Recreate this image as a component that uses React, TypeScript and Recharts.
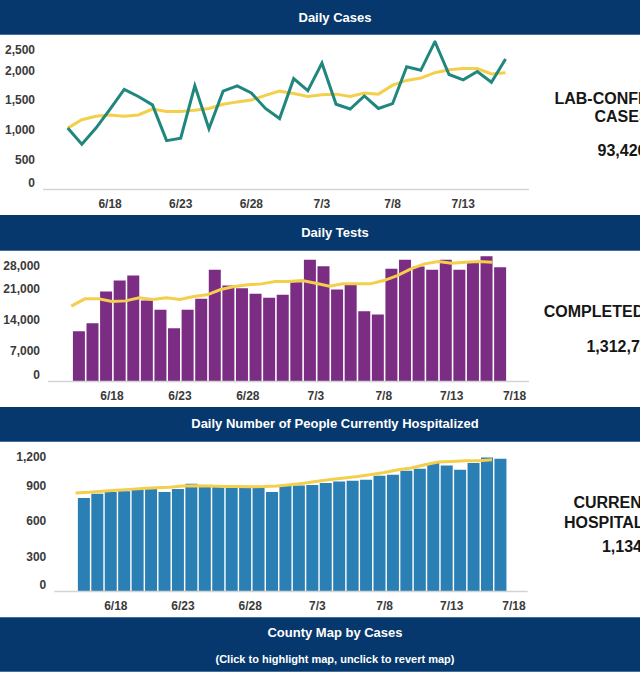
import React from 'react';
import { ComposedChart, Line, Bar, XAxis, YAxis } from 'recharts';

// ---------- data ----------
const DATES = [
  '6/15', '6/16', '6/17', '6/18', '6/19', '6/20', '6/21', '6/22', '6/23', '6/24', '6/25', '6/26', '6/27', '6/28', '6/29', '6/30',
  '7/1', '7/2', '7/3', '7/4', '7/5', '7/6', '7/7', '7/8', '7/9', '7/10', '7/11', '7/12', '7/13', '7/14', '7/15', '7/16',
];
const TICK_LABELS_CASES = ['6/18', '6/23', '6/28', '7/3', '7/8', '7/13'];
const TICK_LABELS_BARS = ['6/18', '6/23', '6/28', '7/3', '7/8', '7/13', '7/18'];

const DAILY_CASES = [1030, 760, 1030, 1350, 1680, 1560, 1420, 820, 860, 1740, 1020, 1650, 1740, 1620, 1360, 1190,
  1860, 1660, 2120, 1430, 1350, 1570, 1360, 1440, 2060, 2000, 2480, 1930, 1840, 1980, 1800, 2190];
const CASES_AVG = [1030, 1170, 1230, 1250, 1230, 1250, 1350, 1310, 1310, 1330, 1360, 1430, 1470, 1500, 1580, 1650,
  1610, 1560, 1590, 1600, 1560, 1620, 1600, 1750, 1830, 1870, 1960, 2010, 2030, 2030, 1940, 1960];

const DAILY_TESTS = [11360, 13170, 20320, 22800, 23930, 18290, 16190, 12040, 16190, 18670, 25220, 21680, 21070, 19800, 18900, 19580,
  22400, 27480, 26030, 20770, 21830, 15880, 15130, 25440, 27480, 25960, 25220, 27480, 25220, 27160, 28290, 25810];
const TESTS_AVG = [17010, 18670, 18670, 18060, 18210, 18890, 18510, 18890, 18510, 19190, 19570, 20770, 21450, 21830, 22050, 22580,
  22580, 22800, 22200, 21520, 22050, 22050, 22050, 22800, 23930, 25440, 26570, 27090, 26720, 26950, 27090, 26950];

const HOSPITALIZED = [798, 835, 849, 855, 869, 878, 849, 875, 920, 906, 903, 897, 897, 897, 849, 906,
  906, 909, 926, 940, 946, 955, 989, 997, 1032, 1049, 1097, 1077, 1040, 1097, 1145, 1134];
const HOSP_AVG = [841, 847, 856, 864, 872, 880, 886, 891, 900, 902, 900, 897, 896, 895, 896, 900,
  912, 925, 942, 956, 969, 983, 1000, 1017, 1040, 1055, 1083, 1106, 1111, 1117, 1117, 1126];

const CASES_Y_TICKS = [0, 500, 1000, 1500, 2000, 2500];
const TESTS_Y_TICKS = [0, 7000, 14000, 21000, 28000];
const HOSP_Y_TICKS = [0, 300, 600, 900, 1200];

// ---------- helpers ----------
const dayOf = (label: string) => {
  const [m, d] = label.split('/').map(Number);
  return m === 6 ? d - 15 : 15 + d;
};
const labelOf = (day: number) => {
  const d = Math.round(day);
  return d <= 15 ? `6/${d + 15}` : `7/${d - 15}`;
};

const casesData = DATES.map((date, i) => ({ day: dayOf(date), cases: DAILY_CASES[i], avg: CASES_AVG[i] }));
const testsData = DATES.map((date, i) => ({ day: dayOf(date), tests: DAILY_TESTS[i], avg: TESTS_AVG[i] }));
const hospData = DATES.map((date, i) => ({ day: dayOf(date), hosp: HOSPITALIZED[i], avg: HOSP_AVG[i] }));

const FONT = '"Liberation Sans", Arial, Helvetica, sans-serif';
const NAVY = '#07386d';
const TEAL = '#1f877d';
const YELLOW = '#f4cf4c';
const PURPLE = '#7b2c83';
const BLUE = '#2a7fb4';
const AXIS_GRAY = '#d4d4d4';
const TICK_COLOR = '#3a3a3a';

const fmt = (v: number) => v.toLocaleString('en-US');

const makeYTick = (ticks: number[]) => (props: any) => {
  const { x, y, payload } = props;
  let shift = 0;
  if (payload.value === ticks[0]) shift = -6.5;
  if (payload.value === ticks[ticks.length - 1]) shift = 5.6;
  return (
    <text x={x} y={y + shift} dy="0.355em" textAnchor="end" fill={TICK_COLOR}
      style={{ fontFamily: FONT, fontSize: 12, fontWeight: 700 }}>
      {fmt(payload.value)}
    </text>
  );
};

const makeXTick = (lastShift: number) => (props: any) => {
  const { x, y, payload } = props;
  const label = labelOf(payload.value);
  const dx = label === '7/18' ? lastShift : 0;
  return (
    <text x={x + dx} y={y} dy="0.71em" textAnchor="middle" fill={TICK_COLOR}
      style={{ fontFamily: FONT, fontSize: 12, fontWeight: 700 }}>
      {label}
    </text>
  );
};

const Header = ({ top, height, children }: { top: number; height: number; children: React.ReactNode }) => (
  <div style={{
    position: 'absolute', left: 0, top, width: 670, height, background: NAVY,
    borderBottom: '1px solid #3f6f9f', boxSizing: 'border-box',
    display: 'flex', alignItems: 'center', justifyContent: 'center',
    color: '#fff', fontFamily: FONT, fontWeight: 700, fontSize: 13,
  }}>{children}</div>
);

const PanelLine = ({ center, text }: { center: number; text: string }) => (
  <div style={{
    position: 'absolute', left: 522, width: 200, top: center - 9, height: 18, lineHeight: '18px',
    textAlign: 'center', fontFamily: FONT, fontWeight: 700, fontSize: 16, color: '#161616', whiteSpace: 'nowrap',
  }}>{text}</div>
);

export default function App() {
  const casesTicks = TICK_LABELS_CASES.map(dayOf);
  const barTicks = TICK_LABELS_BARS.map(dayOf);
  const testsDomain: [number, number] = [-1.71, 33.69];
  const hospDomain: [number, number] = [-1.58, 33.65];
  const testsBarShift = 0.55;
  const hospBarShift = 0.6;

  return (
    <div style={{ position: 'absolute', left: 0, top: 0, width: 640, height: 683, overflow: 'hidden', background: '#fff' }}>
      <Header top={0} height={35}>Daily Cases</Header>

      <div style={{ position: 'absolute', left: 0, top: 35 }}>
        <ComposedChart width={530} height={180} data={casesData} margin={{ top: 5.5, right: 1, bottom: 0, left: 0 }}>
          <XAxis dataKey="day" type="number" domain={[-1.75, 32.66]} allowDataOverflow ticks={casesTicks}
            axisLine={{ stroke: AXIS_GRAY, strokeWidth: 1.5 }} tickLine={false} tickMargin={4} height={25.5}
            tick={makeXTick(0)} />
          <YAxis type="number" domain={[0, 2500]} allowDataOverflow ticks={CASES_Y_TICKS} width={43}
            axisLine={false} tickLine={false} tick={makeYTick(CASES_Y_TICKS)} />
          <Line dataKey="avg" stroke={YELLOW} strokeWidth={3} dot={false} isAnimationActive={false} />
          <Line dataKey="cases" stroke={TEAL} strokeWidth={3} dot={false} isAnimationActive={false} />
        </ComposedChart>
      </div>
      <PanelLine center={99.3} text="LAB-CONFIRMED" />
      <PanelLine center={116.7} text="CASES" />
      <PanelLine center={150.7} text="93,426" />

      <Header top={215} height={35.5}>Daily Tests</Header>

      <div style={{ position: 'absolute', left: 0, top: 250.5 }}>
        <ComposedChart width={530} height={156} data={testsData} margin={{ top: 2.1, right: 1, bottom: 0, left: 0 }}>
          <XAxis dataKey="day" type="number" domain={testsDomain} allowDataOverflow ticks={barTicks}
            axisLine={{ stroke: AXIS_GRAY, strokeWidth: 1.5 }} tickLine={false} tickMargin={4} height={25.5}
            tick={makeXTick(-5)} />
          <XAxis xAxisId="bars" dataKey="day" type="number" hide allowDataOverflow
            domain={[testsDomain[0] - testsBarShift, testsDomain[1] - testsBarShift]} />
          <YAxis type="number" domain={[0, 29000]} allowDataOverflow ticks={TESTS_Y_TICKS} width={48}
            axisLine={false} tickLine={false} tick={makeYTick(TESTS_Y_TICKS)} />
          <Bar xAxisId="bars" dataKey="tests" fill={PURPLE} barSize={12} isAnimationActive={false} />
          <Line dataKey="avg" stroke={YELLOW} strokeWidth={3} dot={false} isAnimationActive={false} />
        </ComposedChart>
      </div>
      <PanelLine center={312.3} text="COMPLETED TESTS" />
      <PanelLine center={346.7} text="1,312,745" />

      <Header top={406.7} height={35.6}>Daily Number of People Currently Hospitalized</Header>

      <div style={{ position: 'absolute', left: 0, top: 442.3 }}>
        <ComposedChart width={529} height={175} data={hospData} margin={{ top: 3.15, right: 1.3, bottom: 0, left: 0 }}>
          <XAxis dataKey="day" type="number" domain={hospDomain} allowDataOverflow ticks={barTicks}
            axisLine={{ stroke: AXIS_GRAY, strokeWidth: 1.5 }} tickLine={false} tickMargin={4} height={25.6}
            tick={makeXTick(-5)} />
          <XAxis xAxisId="bars" dataKey="day" type="number" hide allowDataOverflow
            domain={[hospDomain[0] - hospBarShift, hospDomain[1] - hospBarShift]} />
          <YAxis type="number" domain={[0, 1250]} allowDataOverflow ticks={HOSP_Y_TICKS} width={54.3}
            axisLine={false} tickLine={false} tick={makeYTick(HOSP_Y_TICKS)} />
          <Bar xAxisId="bars" dataKey="hosp" fill={BLUE} barSize={12} isAnimationActive={false} />
          <Line dataKey="avg" stroke={YELLOW} strokeWidth={3} dot={false} isAnimationActive={false} />
        </ComposedChart>
      </div>
      <PanelLine center={503.3} text="CURRENTLY" />
      <PanelLine center={523.3} text="HOSPITALIZED" />
      <PanelLine center={547.3} text="1,134" />

      <div style={{
        position: 'absolute', left: 0, top: 617.3, width: 670, height: 55, background: NAVY,
        borderTop: '1px solid #3f6f9f', borderBottom: '1px solid #3f6f9f', boxSizing: 'border-box',
        color: '#fff', fontFamily: FONT, fontWeight: 700, textAlign: 'center',
      }}>
        <div style={{ position: 'absolute', left: 0, width: 670, top: 6, lineHeight: '18px', fontSize: 13 }}>County Map by Cases</div>
        <div style={{ position: 'absolute', left: 0, width: 670, top: 33, lineHeight: '16px', fontSize: 11 }}>(Click to highlight map, unclick to revert map)</div>
      </div>
    </div>
  );
}
